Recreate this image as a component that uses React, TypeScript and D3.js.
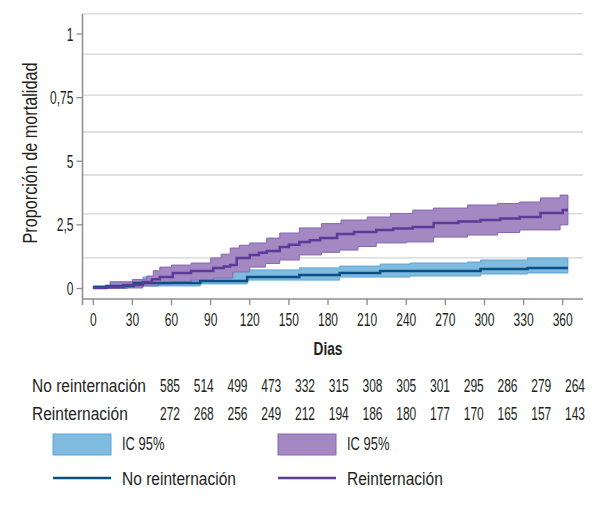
import React from "react";
import * as d3 from "d3";

// ---- data (mortality proportion, %; days) ----
const xTicks = [0, 30, 60, 90, 120, 150, 180, 210, 240, 270, 300, 330, 360];
const yTicks = [0, 2.5, 5, 7.5, 10];
const yTickLabels = ["0", "2,5", "5", "0,75", "1"];
const gridValues = [1.2, 2.93, 4.46, 6.15, 7.6, 9.21, 10.79];
const endDay = 364;

const reinDays = [0, 10, 23, 38, 45, 51, 61, 75, 92, 100, 105, 110, 120, 127, 133, 143, 150, 158, 166, 174, 187, 200, 217, 230, 245, 261, 280, 297, 312, 327, 343, 360];
const reinMean = [0.02, 0.06, 0.14, 0.26, 0.36, 0.45, 0.61, 0.69, 0.81, 0.86, 0.92, 1.2, 1.32, 1.4, 1.47, 1.63, 1.72, 1.83, 1.9, 1.98, 2.14, 2.22, 2.3, 2.36, 2.42, 2.57, 2.63, 2.69, 2.75, 2.81, 2.97, 3.08];
const reinUpDays = [0, 13, 30, 41, 46, 51, 60, 75, 90, 98, 105, 112, 120, 133, 143, 158, 175, 190, 210, 228, 245, 261, 287, 310, 327, 343, 358];
const reinUpper = [0.06, 0.26, 0.35, 0.49, 0.7, 0.84, 0.92, 1.0, 1.2, 1.35, 1.59, 1.7, 1.79, 1.98, 2.18, 2.38, 2.55, 2.69, 2.81, 2.95, 3.08, 3.16, 3.28, 3.34, 3.4, 3.56, 3.67];
const reinLoDays = [0, 20, 38, 50, 61, 75, 92, 107, 120, 132, 143, 158, 175, 189, 203, 217, 240, 261, 287, 310, 327, 358];
const reinLower = [0, 0.02, 0.1, 0.18, 0.26, 0.33, 0.41, 0.65, 0.84, 0.98, 1.12, 1.32, 1.42, 1.51, 1.65, 1.79, 1.83, 2.02, 2.1, 2.2, 2.3, 2.5];

const noDays = [0, 10, 31, 82, 118, 158, 189, 220, 297, 333];
const noMean = [0.06, 0.1, 0.22, 0.29, 0.45, 0.53, 0.61, 0.69, 0.77, 0.81];
const noUpDays = [0, 13, 38, 87, 107, 158, 189, 220, 243, 287, 297, 333];
const noUpper = [0.1, 0.26, 0.45, 0.57, 0.73, 0.81, 0.88, 0.96, 1.0, 1.04, 1.12, 1.2];
const noLoDays = [0, 26, 82, 118, 189, 243, 297, 333];
const noLower = [0, 0.1, 0.18, 0.33, 0.45, 0.49, 0.57, 0.61];

const riskLabels = ["No reinternación", "Reinternación"];
const riskNo = [585, 514, 499, 473, 332, 315, 308, 305, 301, 295, 286, 279, 264];
const riskRein = [272, 268, 256, 249, 212, 194, 186, 180, 177, 170, 165, 157, 143];

const legendLabels = ["IC 95%", "IC 95%", "No reinternación", "Reinternación"];

// ---- styles ----
const FONT = "'Liberation Sans', Arial, sans-serif";
const TXT = "#231f20";
const BLUE_FILL = "#7fbadf";
const BLUE_EDGE = "#5ea5d6";
const BLUE_LINE = "#0b4f87";
const PURP_FILL = "#a388c2";
const PURP_EDGE = "#8666b2";
const PURP_LINE = "#5c3a99";
const FS = 18.5;
const NUM_SX = 0.65;
const LBL_SX = 0.84;

function stepAt(days: number[], vals: number[], t: number) {
  let v = vals[0];
  for (let i = 0; i < days.length; i++) if (days[i] <= t) v = vals[i];
  return v;
}

function T(props: {
  x: number;
  y: number;
  sx: number;
  size?: number;
  anchor?: string;
  weight?: string;
  rotate?: number;
  children: React.ReactNode;
}) {
  const { x, y, sx, size = FS, anchor = "start", weight = "normal", rotate = 0, children } = props;
  return (
    <text
      transform={`translate(${x},${y}) rotate(${rotate}) scale(${sx},1)`}
      textAnchor={anchor}
      fontSize={size}
      fontWeight={weight}
      fill={TXT}
    >
      {children}
    </text>
  );
}

export default function App() {
  const x = d3.scaleLinear().domain([0, 360]).range([93.3, 562.7]);
  const y = d3.scaleLinear().domain([0, 10]).range([288.5, 34]);
  const left = 82.5, right = 583, bottom = 299, top = y(10.79);

  const lineGen = d3
    .line<[number, number]>()
    .x((d) => x(d[0]))
    .y((d) => y(d[1]))
    .curve(d3.curveStepAfter);
  const areaGen = d3
    .area<[number, number, number]>()
    .x((d) => x(d[0]))
    .y0((d) => y(d[1]))
    .y1((d) => y(d[2]))
    .curve(d3.curveStepAfter);

  const mkLine = (days: number[], vals: number[]) => {
    const pts: [number, number][] = days.map((d, i) => [d, vals[i]]);
    pts.push([endDay, vals[vals.length - 1]]);
    return lineGen(pts) || "";
  };
  const mkBand = (ld: number[], lv: number[], ud: number[], uv: number[]) => {
    const all = Array.from(new Set([...ld, ...ud, endDay])).sort((a, b) => a - b);
    const pts: [number, number, number][] = all.map((t) => [t, stepAt(ld, lv, t), stepAt(ud, uv, t)]);
    return areaGen(pts) || "";
  };

  const colX = (i: number) => 170 + i * 33.75;

  return (
    <svg
      width={605}
      height={514}
      style={{ position: "absolute", left: 0, top: 0, background: "#fff" }}
      fontFamily={FONT}
    >
      {/* grid */}
      {gridValues.map((g, i) => (
        <line key={"g" + i} x1={left} x2={right} y1={y(g)} y2={y(g)} stroke="#d4d4d4" strokeWidth={1.3} />
      ))}
      {/* bands */}
      <path d={mkBand(noLoDays, noLower, noUpDays, noUpper)} fill={BLUE_FILL} stroke={BLUE_EDGE} strokeWidth={1} />
      <path d={mkBand(reinLoDays, reinLower, reinUpDays, reinUpper)} fill={PURP_FILL} stroke={PURP_EDGE} strokeWidth={1} />
      {/* lines */}
      <path d={mkLine(noDays, noMean)} fill="none" stroke={BLUE_LINE} strokeWidth={2.5} />
      <path d={mkLine(reinDays, reinMean)} fill="none" stroke={PURP_LINE} strokeWidth={2.5} />

      {/* axes */}
      <line x1={left} x2={left} y1={top} y2={bottom + 6} stroke="#8c8c8c" strokeWidth={1.5} />
      <line x1={left} x2={right} y1={bottom} y2={bottom} stroke="#8c8c8c" strokeWidth={1.5} />
      {yTicks.map((t, i) => (
        <g key={"yt" + i}>
          <line x1={left - 6} x2={left} y1={y(t)} y2={y(t)} stroke="#8c8c8c" strokeWidth={1.3} />
          <T x={left - 9} y={y(t) + 6.6} sx={NUM_SX} anchor="end">
            {yTickLabels[i]}
          </T>
        </g>
      ))}
      {xTicks.map((t, i) => (
        <g key={"xt" + i}>
          <line x1={x(t)} x2={x(t)} y1={bottom} y2={bottom + 6} stroke="#8c8c8c" strokeWidth={1.3} />
          <T x={x(t)} y={bottom + 27} sx={NUM_SX} anchor="middle">
            {t}
          </T>
        </g>
      ))}
      <T x={x(180)} y={355} sx={0.72} size={19} anchor="middle" weight="bold">
        Dias
      </T>
      <T x={37} y={153} sx={0.81} size={20} anchor="middle" rotate={-90}>
        Proporción de mortalidad
      </T>

      {/* risk table */}
      <T x={32} y={391.6} sx={LBL_SX}>{riskLabels[0]}</T>
      <T x={32} y={419.6} sx={LBL_SX}>{riskLabels[1]}</T>
      {riskNo.map((v, i) => (
        <T key={"rn" + i} x={colX(i)} y={391.6} sx={NUM_SX} anchor="middle">{v}</T>
      ))}
      {riskRein.map((v, i) => (
        <T key={"rr" + i} x={colX(i)} y={419.6} sx={NUM_SX} anchor="middle">{v}</T>
      ))}

      {/* legend */}
      <rect x={53} y={434} width={58} height={21} fill={BLUE_FILL} stroke={BLUE_EDGE} strokeWidth={1} />
      <T x={122} y={450} sx={0.7}>{legendLabels[0]}</T>
      <rect x={278} y={434} width={58} height={21} fill={PURP_FILL} stroke={PURP_EDGE} strokeWidth={1} />
      <T x={347} y={450} sx={0.7}>{legendLabels[1]}</T>
      <line x1={53} x2={111} y1={478} y2={478} stroke={BLUE_LINE} strokeWidth={2.5} />
      <T x={122} y={484.6} sx={LBL_SX}>{legendLabels[2]}</T>
      <line x1={278} x2={336} y1={478} y2={478} stroke={PURP_LINE} strokeWidth={2.5} />
      <T x={347} y={484.6} sx={LBL_SX}>{legendLabels[3]}</T>
    </svg>
  );
}
